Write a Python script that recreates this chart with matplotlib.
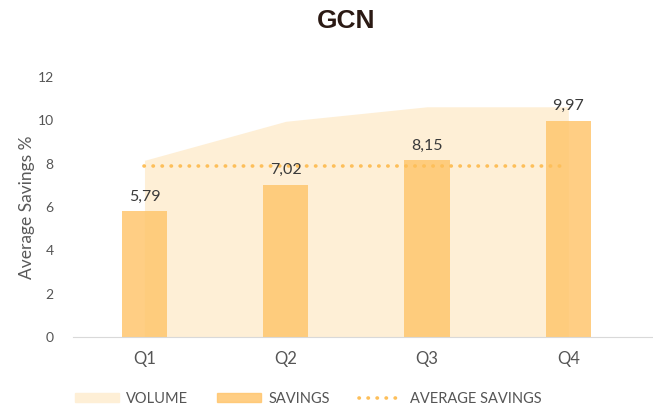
import matplotlib
matplotlib.use("Agg")
import matplotlib.pyplot as plt
from matplotlib.patches import Patch
from matplotlib.lines import Line2D

quarters = ["Q1", "Q2", "Q3", "Q4"]
savings = [5.79, 7.02, 8.15, 9.97]
volume = [8.15, 9.95, 10.62, 10.62]
avg_savings = 7.87
yticks = [0, 2, 4, 6, 8, 10, 12]

plt.rcParams['font.family'] = ['Lato', 'DejaVu Sans']

fig = plt.figure(figsize=(6.53, 4.11), dpi=100)
ax = fig.add_axes([0.112, 0.18, 0.886, 0.633])

x = list(range(len(quarters)))
ax.fill_between(x, volume, 0, color="#FEEFD6", lw=0, zorder=1)
ax.bar(x, savings, width=0.32, color="#FFC66E", alpha=0.85, zorder=2)
ax.plot([x[0], x[-1]], [avg_savings] * 2, color="#FDBF5A", lw=2.6,
        linestyle=(0, (0.1, 2.4)), dash_capstyle="round", zorder=3)

for xi, v in zip(x, savings):
    ax.text(xi, v + 0.35, f"{v:.2f}".replace(".", ","), ha="center", va="bottom",
            fontsize=11.5, color="#3a3a3a", zorder=4)

ax.set_xlim(-0.505, 3.59)
ax.set_ylim(0, 12)
ax.set_xticks(x)
ax.set_xticklabels(quarters, fontsize=12, color="#555555")
ax.set_yticks(yticks)
ax.set_yticklabels([str(t) for t in yticks], fontsize=10, color="#555555")
ax.tick_params(length=0, pad=14)
ax.tick_params(axis="x", pad=10)
for s in ["top", "right", "left"]:
    ax.spines[s].set_visible(False)
ax.spines["bottom"].set_color("#d9d9d9")
ax.set_ylabel("Average Savings %", fontsize=12.5, color="#595959", labelpad=2)

fig.text(0.53, 0.948, "GCN", ha="center", va="center", fontsize=19,
         fontweight="bold", color="#2b1a14", family="Liberation Sans")

handles = [Patch(color="#FEEFD6"), Patch(color="#FFC66E", alpha=0.85),
           Line2D([], [], color="#FDBF5A", lw=2.6, linestyle=(0, (0.1, 2.4)),
                  dash_capstyle="round")]
fig.legend(handles, ["VOLUME", "SAVINGS", "AVERAGE SAVINGS"], loc="center",
           bbox_to_anchor=(0.472, 0.03), ncol=3, frameon=False, fontsize=10.5,
           labelcolor="#555555", handlelength=3.0, handleheight=0.6,
           columnspacing=2.0, handletextpad=0.5)

fig.savefig("out.png", dpi=100)
